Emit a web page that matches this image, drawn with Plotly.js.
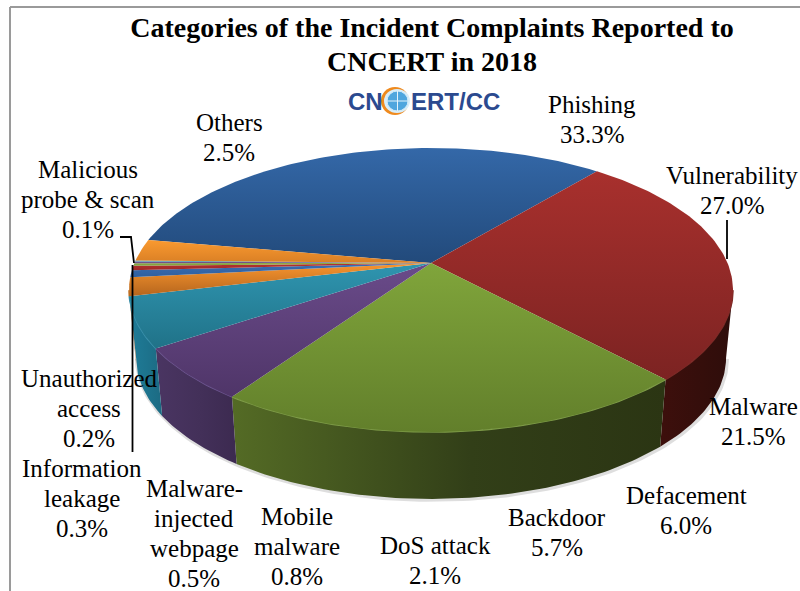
<!DOCTYPE html>
<html>
<head>
<meta charset="utf-8">
<script src="https://cdn.plot.ly/plotly-3.0.1.min.js"></script>
<style>html,body{margin:0;padding:0;background:#fff}#chart{width:800px;height:591px}</style>
</head>
<body>
<div id="chart"></div>
<script>
// ---- data ----
const categories = ["Phishing","Vulnerability","Malware","Defacement","Backdoor","DoS attack","Mobile malware","Malware-injected webpage","Information leakage","Unauthorized access","Malicious probe & scan","Others"];
const values = [33.3,27.0,21.5,6.0,5.7,2.1,0.8,0.5,0.3,0.2,0.1,2.5];

// ---- label text layout ----
const labelLines = [["Phishing"],["Vulnerability"],["Malware"],["Defacement"],["Backdoor"],["DoS attack"],["Mobile","malware"],["Malware-","injected","webpage"],["Information","leakage"],["Unauthorized","access"],["Malicious","probe & scan"],["Others"]];
const labelCx = [592,732,753,686,557,435,297,194,82,89,88,229];
const labelTop = [104,175,406,495,517,545,516,488,468,378,169,122];

// ---- styles per slice: top gradient (light, dark), wall gradient (left, mid, right) ----
const topLight = ["#3468a8","#a8302d","#80a53b","#6a4b8a","#2f95b0","#f9962f","#3a6fb5","#b8322f","#8fae45","#7a5a98","#4a9ab0","#fa9a30"];
const topDark  = ["#224a7b","#7c2322","#627f2b","#4f3568","#207288","#b5651d","#2f5f9e","#a02a28","#7d9a3a","#6a4c85","#3c8aa0","#d97f25"];
const wallLeft = ["#333","#3d0f0c","#546b25","#4a3562","#1f7c98","#b5651d","#2f5f9e","#a02a28","#7d9a3a","#6a4c85","#3c8aa0","#d97f25"];
const wallMid  = ["#333","#350e0b","#323f18","#433059","#1d738d","#aa5f1b","#2f5f9e","#a02a28","#7d9a3a","#6a4c85","#3c8aa0","#d97f25"];
const wallRight= ["#333","#2e0d0b","#2b3513","#3c2a50","#1c6a82","#a05a1a","#2f5f9e","#a02a28","#7d9a3a","#6a4c85","#3c8aa0","#d97f25"];
const rimColor = ["#333","#7a2a26","#7e9c48","#6c5590","#3a90ac","#c57a30","#3a6fb5","#b8322f","#8fae45","#7a5a98","#4a9ab0","#fa9a30"];

// ---- projection of the tilted disc on to the page ----
const startAngle = -80, cx = 431, topCy = 263, topK = 136.9, botCy = 331, botK = 136, halfW = 296.5, persp = 0.19, botScale = 0.977;
const wallFrom = 101, wallTo = 259;
function rim(a, y0, k, s) {
  const t = a * Math.PI / 180, u = Math.sin(t), v = Math.cos(t), d = 1 + persp * v;
  return [cx + s * halfW * u / d, y0 - k * v / d];
}
function arc(a0, a1, y0, k, s) {
  const n = Math.max(2, Math.ceil(Math.abs(a1 - a0))), pts = [];
  for (let i = 0; i <= n; i++) pts.push(rim(a0 + (a1 - a0) * i / n, y0, k, s));
  return pts;
}
const total = values.reduce((a, b) => a + b, 0);
const spans = [];
let acc = startAngle;
values.forEach(v => { const w = v / total * 360; spans.push([acc, acc + w]); acc += w; });

const wallTraces = [], faceTraces = [], rimTraces = [];
spans.forEach((sp, i) => {
  const a0 = Math.max(sp[0], wallFrom), a1 = Math.min(sp[1], wallTo);
  if (a1 > a0) {
    const up = arc(a0, a1, topCy, topK, 1), low = arc(a1, a0, botCy, botK, botScale), poly = up.concat(low);
    poly.push(poly[0]);
    wallTraces.push({type:"scatter", mode:"lines", x:poly.map(p=>p[0]), y:poly.map(p=>p[1]), fill:"toself", line:{width:0},
      fillgradient:{type:"horizontal", colorscale:[[0, wallLeft[i]],[0.55, wallMid[i]],[1, wallRight[i]]]}, hoverinfo:"skip", showlegend:false});
    rimTraces.push({type:"scatter", mode:"lines", x:up.map(p=>p[0]), y:up.map(p=>p[1]), line:{width:1.6, color:rimColor[i]}, hoverinfo:"skip", showlegend:false});
  }
  const face = [[cx, topCy]].concat(arc(sp[0], sp[1], topCy, topK, 1));
  face.push([cx, topCy]);
  faceTraces.push({type:"scatter", mode:"lines", x:face.map(p=>p[0]), y:face.map(p=>p[1]), fill:"toself", line:{width:0},
    fillgradient:{type:"vertical", colorscale:[[0, topDark[i]],[1, topLight[i]]]}, name:categories[i], hoverinfo:"name", showlegend:false});
});

// soft shadow hugging the lower rim
const shadowPts = arc(wallFrom, wallTo, botCy, botK, botScale);
const shadow = {type:"scatter", mode:"lines", x:shadowPts.map(p=>p[0] + 1), y:shadowPts.map(p=>p[1] + 1), line:{color:"rgba(0,0,0,0.13)", width:4}, hoverinfo:"skip", showlegend:false};

// ---- leader lines ----
const leaders = [
  {x:[120,131,134], y:[237,237,263]},
  {x:[132.5,132.5], y:[265,452]},
  {x:[727,727], y:[220,259]}
].map(l => ({type:"scatter", mode:"lines", x:l.x, y:l.y, line:{color:"#000", width:1.8}, hoverinfo:"skip", showlegend:false}));

// ---- labels ----
const serif = "Liberation Serif, Times New Roman, serif";
const annotations = [];
const lineGap = 30;
categories.forEach((c, i) => {
  const lines = labelLines[i].concat([values[i].toFixed(1) + "%"]);
  lines.forEach((txt, j) => annotations.push({xref:"x", yref:"y", x:labelCx[i], y:labelTop[i] + j * lineGap, text:txt, showarrow:false,
    xanchor:"center", yanchor:"middle", font:{family:serif, size:25, color:"#000"}}));
});
// second title line
annotations.push({xref:"x", yref:"y", x:432, y:61, text:"<b>CNCERT in 2018</b>", showarrow:false, xanchor:"center", yanchor:"middle", font:{family:serif, size:28, color:"#000"}});
// logo
const logoFont = {family:"Liberation Sans, Arial, sans-serif", size:24, color:"#2b4a8f"};
annotations.push({xref:"x", yref:"y", x:365, y:101, text:"<b>CN</b>", showarrow:false, font:logoFont, xanchor:"center", yanchor:"middle"});
annotations.push({xref:"x", yref:"y", x:455, y:101, text:"<b>ERT/CC</b>", showarrow:false, font:logoFont, xanchor:"center", yanchor:"middle"});

const shapes = [
  {type:"line", xref:"x", yref:"y", x0:10, x1:10, y0:7, y1:591, line:{color:"#9a9a9a", width:2}},
  {type:"line", xref:"x", yref:"y", x0:10, x1:800, y0:7, y1:7, line:{color:"#9a9a9a", width:2}},
  {type:"circle", xref:"x", yref:"y", x0:381, x1:409, y0:87, y1:115, fillcolor:"#ef8a1e", line:{width:0}},
  {type:"circle", xref:"x", yref:"y", x0:384, x1:410, y0:89, y1:113, fillcolor:"#d8eefa", line:{width:0}},
  {type:"circle", xref:"x", yref:"y", x0:387, x1:408, y0:91, y1:111, fillcolor:"#4fa6de", line:{color:"#cfe9f8", width:1}},
  {type:"line", xref:"x", yref:"y", x0:387, x1:408, y0:101, y1:101, line:{color:"#e4f3fb", width:1}},
  {type:"line", xref:"x", yref:"y", x0:397.5, x1:397.5, y0:91, y1:111, line:{color:"#e4f3fb", width:1}}
];

const layout = {
  width:800, height:591, margin:{l:0,r:0,t:0,b:0}, paper_bgcolor:"#fff", plot_bgcolor:"#fff", showlegend:false,
  title:{text:"<b>Categories of the Incident Complaints Reported to</b>", x:0.54, xanchor:"center", y:0.971, yanchor:"top",
    font:{family:serif, size:28, color:"#000"}},
  xaxis:{range:[0,800], visible:false, fixedrange:true},
  yaxis:{range:[591,0], visible:false, fixedrange:true},
  annotations, shapes
};
Plotly.newPlot("chart", [shadow].concat(wallTraces, rimTraces, faceTraces, leaders), layout, {displayModeBar:false});
</script>
</body>
</html>
